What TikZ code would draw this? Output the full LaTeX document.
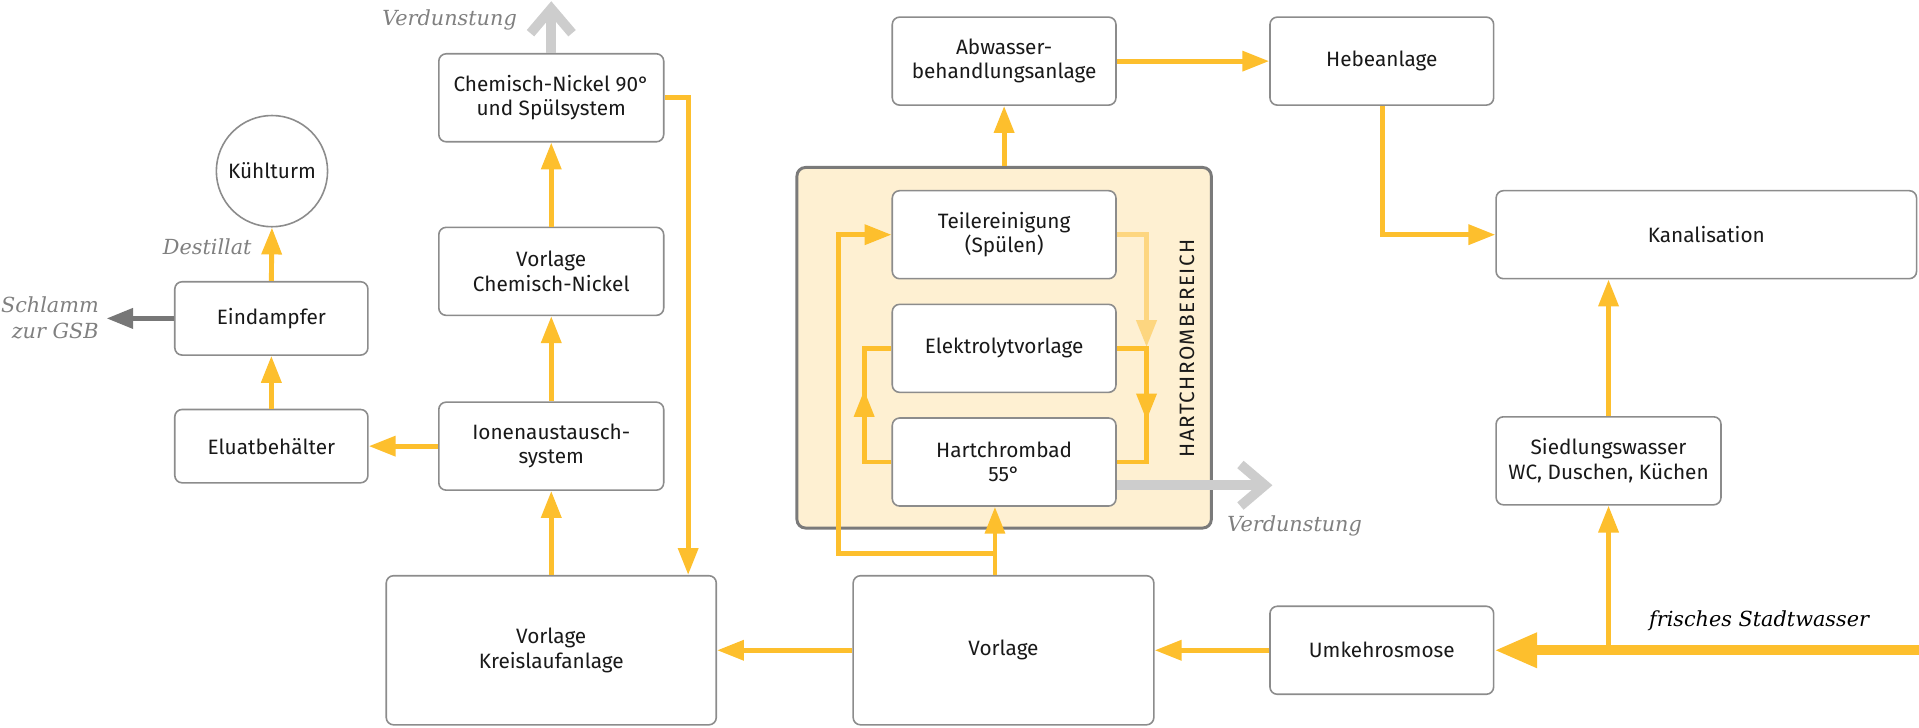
\documentclass[tikz,border=0pt]{standalone}
\usepackage{fontspec}
\setmainfont{Fira Sans}
\newfontfamily\lblfont{DejaVu Serif}
\usetikzlibrary{arrows.meta,calc,positioning}
\definecolor{ylw}{HTML}{FDBF2D}
\definecolor{ylwlight}{HTML}{FDD680}
\definecolor{areafill}{HTML}{FEF0D2}
\definecolor{boxgray}{HTML}{8C8C8C}
\definecolor{areagray}{HTML}{7A7A7A}
\definecolor{vapgray}{HTML}{CDCDCD}
\definecolor{sludge}{HTML}{777777}
\definecolor{lblgray}{HTML}{808080}
\tikzset{
  boxtext/.style={font=\fontsize{17}{20}\selectfont, text=black!90},
  procbox/.style={boxtext, draw=boxgray, line width=1.3pt, rounded corners=6pt, fill=white, align=center, inner sep=0pt, rectangle},
  ya/.style={draw=ylw, line width=4pt, -{Triangle[length=22pt,width=16pt]}},
  yl/.style={draw=ylw, line width=4pt},
  yla/.style={draw=ylwlight, line width=4pt, -{Triangle[length=22pt,width=16pt]}},
  bigarrow/.style={draw=ylw, line width=8pt, -{Triangle[length=35pt,width=27pt]}},
  sludgearrow/.style={draw=sludge, line width=4.5pt, -{Triangle[length=22pt,width=16pt]}},
  vaparrow/.style={draw=vapgray, line width=8pt, -{Straight Barb[length=20pt,width=34pt]}},
  lbl/.style={font=\lblfont\itshape\fontsize{17}{21}\selectfont, text=lblgray, inner sep=0pt},
}
\begin{document}
\begin{tikzpicture}[x=1pt,y=-1pt]
\useasboundingbox (0,0) rectangle (1570,594.8);
% Hartchrom area
\node[draw=areagray, line width=2.4pt, fill=areafill, rounded corners=7pt, minimum width=339pt, minimum height=295pt, inner sep=0pt] (area) at (821.5,284.5) {};
\node[boxtext, rotate=90, inner sep=0pt] (hclabel) at (971,285) {\addfontfeature{LetterSpace=7}HARTCHROMBEREICH};
% nodes
\node[draw=boxgray, line width=1.3pt, fill=white, circle, minimum size=91pt, inner sep=0pt, boxtext] (kuehl) at (222.5,140) {Kühlturm};
\node[procbox, minimum width=158pt, minimum height=60pt] (eind) at (222,260.5) {Eindampfer};
\node[procbox, minimum width=158pt, minimum height=60pt] (eluat) at (222,365) {Eluatbehälter};
\node[procbox, minimum width=184pt, minimum height=72pt] (chem) at (451,80) {Chemisch-Nickel 90°\\und Spülsystem};
\node[procbox, minimum width=184pt, minimum height=72pt] (vchem) at (451,222) {Vorlage\\Chemisch-Nickel};
\node[procbox, minimum width=184pt, minimum height=72pt] (ionen) at (451,365) {Ionenaustausch-\\system};
\node[procbox, minimum width=270pt, minimum height=122pt] (vkreis) at (451,532) {Vorlage\\Kreislaufanlage};
\node[procbox, minimum width=246pt, minimum height=122pt] (vorl) at (821,532) {Vorlage};
\node[procbox, minimum width=183pt, minimum height=72pt] (umk) at (1130.5,532) {Umkehrosmose};
\node[procbox, minimum width=183pt, minimum height=72pt] (teil) at (821.5,192) {Teilereinigung\\(Spülen)};
\node[procbox, minimum width=183pt, minimum height=72pt] (elek) at (821.5,285) {Elektrolytvorlage};
\node[procbox, minimum width=183pt, minimum height=72pt] (hart) at (821.5,378) {Hartchrombad\\55°};
\node[procbox, minimum width=183pt, minimum height=72pt] (abw) at (821.5,50) {Abwasser-\\behandlungsanlage};
\node[procbox, minimum width=183pt, minimum height=72pt] (hebe) at (1130.5,50) {Hebeanlage};
\node[procbox, minimum width=344pt, minimum height=72pt] (kanal) at (1396,192) {Kanalisation};
\node[procbox, minimum width=184pt, minimum height=72pt] (sied) at (1316,377) {Siedlungswasser\\WC, Duschen, Küchen};
% labels
\node[lbl, anchor=east] (verd1) at (423,16) {Verdunstung};
\node[lbl, anchor=west] (verd2) at (1004,430) {Verdunstung};
\node[lbl, anchor=east] (destl) at (206,202) {Destillat};
\node[lbl, anchor=east, align=right] (schl) at (81,260) {Schlamm\\zur GSB};
\node[lbl, anchor=west, text=black] (fresh) at (1349,508) {frisches Stadtwasser};
% helper coordinates
\coordinate (cx) at (563,0);
\coordinate (vx) at (814,453);
\coordinate (lx) at (686,0);
\coordinate (rx) at (938,0);
\coordinate (lx2) at (707,0);
\coordinate (hx) at (1131,0);
\coordinate (sw) at (1570,532);
\coordinate (vtop) at (451,1);
\coordinate (vright) at (1041,397);
\coordinate (sltip) at (87,260.5);
% left part
\draw[ya] (eluat.north) -- (eind.south);
\draw[ya] (eind.north) -- (kuehl.south);
\draw[sludgearrow] (eind.west) -- (sltip);
\draw[ya] (ionen.west) -- (eluat.east);
\draw[ya] (vkreis.north) -- (ionen.south);
\draw[ya] (ionen.north) -- (vchem.south);
\draw[ya] (vchem.north) -- (chem.south);
\draw[vaparrow] (chem.north) -- (vtop);
\draw[ya] (chem.east) -| (cx |- vkreis.north);
\draw[ya] (vorl.west) -- (vkreis.east);
\draw[ya] (umk.west) -- (vorl.east);
% middle
\draw[ya] (vorl.north -| vx) -- (hart.south -| vx);
\draw[ya] (vx) -| (lx |- teil.west) -- (teil.west);
\draw[yla] (teil.east) -- (rx |- teil.east) -- ($(rx |- elek.east)+(0,-1)$);
\draw[yl] (elek.east) -- (rx |- elek.east) -- (rx |- hart.east) -- (hart.east);
\draw[ya] (rx |- elek.east) -- ($(rx |- elek.east)+(0,59)$);
\draw[yl] (hart.west) -- (lx2 |- hart.west) -- (lx2 |- elek.west) -- (elek.west);
\draw[ya] (lx2 |- hart.west) -- ($(lx2 |- hart.west)+(0,-59)$);
\draw[vaparrow] ([yshift=-19pt]hart.east) -- (vright);
\draw[ya] (abw.south |- area.north) -- (abw.south);
% right part
\draw[ya] (abw.east) -- (hebe.west);
\draw[ya] (hx |- hebe.south) |- (kanal.west);
\draw[ya] (sied.north) -- (sied.north |- kanal.south);
\draw[bigarrow] (sw) -- (umk.east);
\draw[ya] (sied.south |- umk.east) -- (sied.south);
\end{tikzpicture}
\end{document}
